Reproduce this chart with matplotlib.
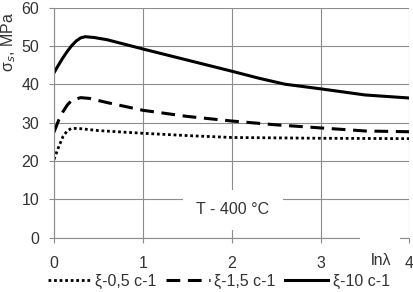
import matplotlib.pyplot as plt
from matplotlib.patches import Rectangle

plt.rcParams['font.family'] = ['Liberation Sans', 'DejaVu Sans']

# xi = 0.5 c-1
x_05 = [0, 0.05, 0.1, 0.15, 0.2, 0.3, 0.5, 1.0, 1.5, 2.0, 3.0, 4.0]
y_05 = [20.4, 23.5, 26.3, 27.9, 28.5, 28.4, 27.9, 27.2, 26.6, 26.1, 25.9, 25.8]

# xi = 1.5 c-1
x_15 = [0, 0.05, 0.1, 0.15, 0.2, 0.3, 0.4, 0.6, 1.0, 1.5, 2.0, 2.5, 3.0, 3.5, 4.0]
y_15 = [27.5, 30.5, 32.8, 34.6, 35.8, 36.5, 36.3, 35.2, 33.2, 31.6, 30.4, 29.4, 28.6, 27.8, 27.6]

# xi = 10 c-1
x_10 = [0, 0.05, 0.1, 0.15, 0.2, 0.25, 0.3, 0.35, 0.45, 0.6, 1.0, 1.5, 2.0,
        2.3, 2.6, 3.0, 3.5, 4.0]
y_10 = [43.0, 45.0, 46.9, 48.6, 50.1, 51.3, 52.1, 52.4, 52.2, 51.6, 49.2,
        46.3, 43.4, 41.6, 40.0, 38.8, 37.2, 36.4]

labels = ["ξ-0,5 c-1", "ξ-1,5 c-1", "ξ-10 c-1"]
xticks = [0, 1, 2, 3, 4]
yticks = [0, 10, 20, 30, 40, 50, 60]

grid_col = '#8c8c8c'
txt_col = '#333333'
fs = 11.5


def main():
    fig = plt.figure(figsize=(4.13, 2.92), dpi=100)
    ax = fig.add_axes([0.1308, 0.1866, 0.8607, 0.7874])

    ax.plot(x_05, y_05, color='black', lw=2.0, linestyle=(0, (1, 1)),
            dash_capstyle='butt', label=labels[0])
    ax.plot(x_15, y_15, color='black', lw=2.2, linestyle=(0, (4.5, 2.5)),
            label=labels[1])
    ax.plot(x_10, y_10, color='black', lw=2.2, label=labels[2])

    ax.set_xlim(0, 4)
    ax.set_ylim(0, 60)
    ax.set_xticks(xticks)
    ax.set_yticks(yticks)
    ax.grid(color=grid_col, linewidth=0.8)
    ax.set_axisbelow(True)
    for s in ['top', 'right']:
        ax.spines[s].set_visible(False)
    for s in ['left', 'bottom']:
        ax.spines[s].set_color(grid_col)
        ax.spines[s].set_linewidth(0.8)
    ax.tick_params(axis='both', colors=grid_col, labelcolor=txt_col,
                   labelsize=fs, length=3.6, width=0.8)
    ax.tick_params(axis='x', pad=10)
    ax.tick_params(axis='y', pad=7)

    fig.text(9 / 413, 1 - 42 / 292, "σ$_s$, MPa", fontsize=fs, color=txt_col,
             rotation=90, ha='center', va='center')

    # label box for T
    ax.add_patch(Rectangle((1.45, 1.96), 1.126, 10.4, facecolor='white',
                           edgecolor='none', zorder=3))
    ax.text(2.01, 7.2, "T - 400 °C", fontsize=fs, color=txt_col,
            ha='center', va='center', zorder=4)

    # lnλ label with white box cutting the axis line
    ax.add_patch(Rectangle((3.44, -9.0), 0.45, 9.1, facecolor='white',
                           edgecolor='none', zorder=5, clip_on=False))
    ax.text(3.68, -5.9, "lnλ", fontsize=fs, color=txt_col,
            ha='center', va='center', zorder=6, clip_on=False)

    fig.legend(loc='center', bbox_to_anchor=(0.53, 1 - 281 / 292), ncol=3,
               frameon=False, fontsize=fs, handlelength=2.7,
               columnspacing=0.6, handletextpad=0.3, labelcolor=txt_col,
               borderpad=0.1, borderaxespad=0)

    fig.savefig("out.png", dpi=100)


if __name__ == "__main__":
    main()
